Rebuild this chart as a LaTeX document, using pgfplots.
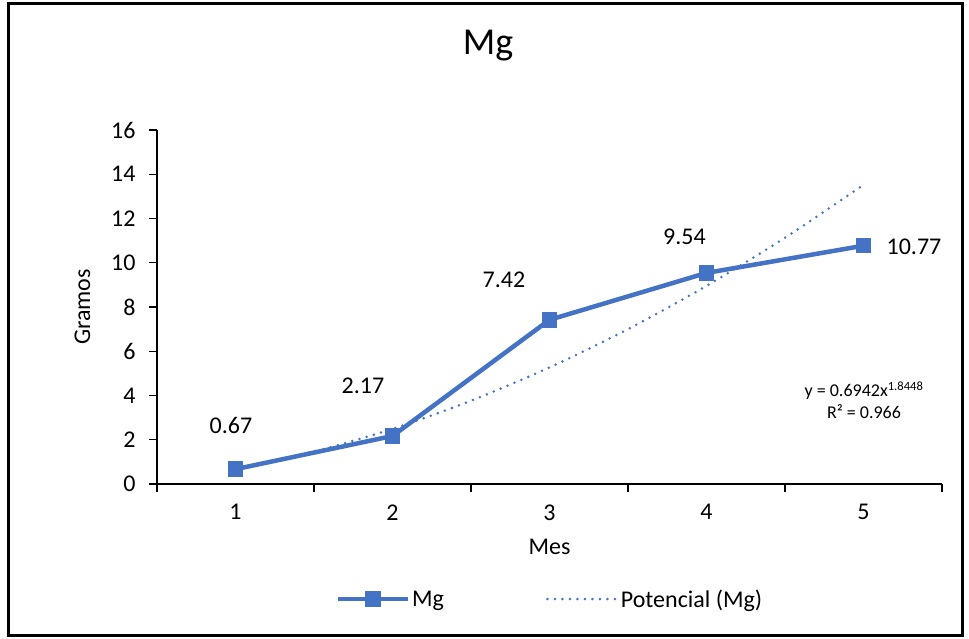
\documentclass[border=0pt]{standalone}
\usepackage{pgfplots}
\pgfplotsset{compat=1.18}
\usepackage{fontspec}
\setmainfont{Carlito}
\definecolor{mblue}{RGB}{68,114,196}

% Mg por mes: x, valor, desplazamiento de la etiqueta
\pgfplotstableread{
x  y      dx     dy
1  0.67   -4.5   44
2  2.17   -29.5  50
3  7.42   -45.5  40
4  9.54   -22    36
5  10.77  50.5   -1
}\mgdata

\begin{document}
\begin{tikzpicture}
\useasboundingbox (0,0) rectangle (969pt,-639pt);
\draw[line width=3pt] (8pt,-4pt) rectangle (962pt,-635pt);
\node[font=\fontsize{38}{44}\selectfont] at (488pt,-46pt) {Mg};
\begin{axis}[
    at={(157pt,-484pt)}, anchor=south west,
    scale only axis, width=785pt, height=354pt,
    xmin=0.5, xmax=5.5, ymin=0, ymax=16,
    axis x line*=bottom, axis y line*=left,
    axis line style={-, line width=1.4pt, black},
    xtick={1,2,3,4,5},
    minor xtick={0.5,1.5,...,5.5},
    major x tick style={draw=none},
    minor x tick style={line width=1.4pt, black},
    ytick={0,2,...,16},
    y tick style={line width=1.4pt, black},
    tick align=outside,
    major tick length=8pt, minor tick length=8pt,
    /pgf/number format/assume math mode=true,
    ticklabel style={font=\fontsize{24}{28}\selectfont},
    xticklabel style={yshift=-9pt},
    yticklabel style={xshift=-10pt},
    xlabel={Mes}, ylabel={Gramos},
    label style={font=\fontsize{24}{28}\selectfont},
    xlabel style={yshift=-12pt},
    ylabel style={yshift=14pt},
    legend columns=2,
    legend style={at={(0.5006,-0.325)}, anchor=center, draw=none,
        font=\fontsize{24}{28}\selectfont,
        /tikz/every even column/.append style={column sep=100pt}},
    legend image code/.code={\draw[mark repeat=2,mark phase=2,#1]
        plot coordinates {(0pt,0pt)(35pt,0pt)(70pt,0pt)};},
    clip=false,
]
% tendencia potencial y = 0.6942x^1.8448 (valores tabulados)
\addplot[mblue, line width=2.8pt, dash pattern=on 0pt off 7.5pt, line cap=round, smooth, forget plot]
    coordinates {(1,0.694) (1.5,1.467) (2,2.493) (2.5,3.764) (3,5.269)
                 (3.5,7.001) (4,8.956) (4.5,11.131) (5,13.520)};
\addplot[mblue, line width=4.5pt, mark=square*, mark size=5.5pt,
    mark options={solid},
    visualization depends on={\thisrow{dx}\as\dx},
    visualization depends on={\thisrow{dy}\as\dy},
    nodes near coords,
    nodes near coords align={center},
    every node near coord/.append style={black, anchor=center,
        font=\fontsize{24}{28}\selectfont, xshift=\dx pt, yshift=\dy pt},
    point meta=explicit symbolic]
    table[x=x, y=y, meta=y] {\mgdata};
\addlegendentry{Mg}
\addlegendimage{mblue, line width=2.8pt, dash pattern=on 0pt off 7.5pt, line cap=round}
\addlegendentry{Potencial (Mg)}
\end{axis}
\node[font=\fontsize{18}{22}\selectfont, align=center] at (864pt,-400pt)
    {y = 0.6942x\textsuperscript{1.8448}\\R² = 0.966};
\end{tikzpicture}
\end{document}
